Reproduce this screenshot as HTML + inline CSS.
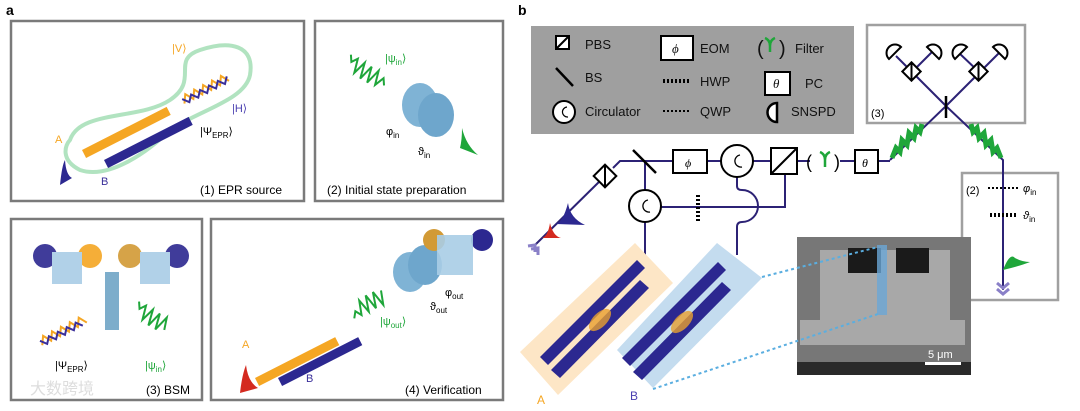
<!DOCTYPE html>
<html><head><meta charset="utf-8"><style>
body{margin:0;background:#fff}
svg{display:block;font-family:"Liberation Sans",sans-serif}
</style></head><body>
<svg width="1080" height="411" viewBox="0 0 1080 411" xmlns="http://www.w3.org/2000/svg">
<text x="6" y="15" font-size="14" font-weight="bold">a</text>
<text x="518" y="15" font-size="14" font-weight="bold">b</text>
<g fill="none" stroke="#7a7a7a" stroke-width="2.5">
<rect x="11" y="21" width="293" height="180"/>
<rect x="315" y="21" width="188" height="180"/>
<rect x="11" y="219" width="191" height="181"/>
<rect x="211" y="219" width="292" height="181"/>
</g>
<path d="M70,140 C80,110 140,120 170,100 C200,80 170,60 200,50 C230,40 255,45 250,75 C245,100 200,110 170,130 C150,150 110,180 80,170 C60,160 65,145 70,140 z" fill="none" stroke="#9edcb0" stroke-width="4" opacity="0.8"/>
<g transform="translate(82,150) rotate(-27)"><rect x="0" y="0" width="95" height="9" fill="#f5a623"/></g>
<g transform="translate(104,160) rotate(-27)"><rect x="0" y="0" width="95" height="9" fill="#2c2890"/></g>
<path d="M180,95 l5,-8 l5,8 l5,-8 l5,8 l5,-8 l5,8 l5,-8 l5,8 l5,-8 l5,8" transform="rotate(-27 200 90)" fill="none" stroke="#f5a623" stroke-width="2"/>
<path d="M180,90 l5,6 l5,-6 l5,6 l5,-6 l5,6 l5,-6 l5,6 l5,-6 l5,6 l5,-6" transform="rotate(-27 200 90)" fill="none" stroke="#3a2f9a" stroke-width="2"/>
<path d="M60,185 Q62,165 65,160 Q66,175 72,178 z" fill="#2c2890"/>
<text x="172" y="52" font-size="11" fill="#f5a623">|V⟩</text>
<text x="232" y="112" font-size="11" fill="#4a3fb0">|H⟩</text>
<text x="200" y="135" font-size="11">|Ψ<tspan font-size="8" dy="3">EPR</tspan><tspan dy="-3">⟩</tspan></text>
<text x="55" y="143" font-size="11" fill="#f5a623">A</text>
<text x="101" y="185" font-size="11" fill="#3a2f9a">B</text>
<text x="200" y="194" font-size="12">(1) EPR source</text>
<path d="M342,62 l4,6 l4,-6 l4,14 l4,-14 l4,16 l4,-16 l4,16 l4,-16 l4,14 l4,-10 l4,6" transform="rotate(30 360 75)" fill="none" stroke="#1fa63a" stroke-width="2"/>
<ellipse cx="420" cy="105" rx="18" ry="22" fill="#7fb3d5"/>
<ellipse cx="436" cy="115" rx="18" ry="22" fill="#6ea6cc"/>
<path d="M460,148 Q462,140 462,128 Q466,145 478,155 z" fill="#1fa63a"/>
<text x="385" y="62" font-size="11" fill="#1fa63a">|ψ<tspan font-size="8" dy="3">in</tspan><tspan dy="-3">⟩</tspan></text>
<text x="386" y="135" font-size="11">φ<tspan font-size="8" dy="3">in</tspan></text>
<text x="418" y="155" font-size="11">ϑ<tspan font-size="8" dy="3">in</tspan></text>
<text x="327" y="194" font-size="12">(2) Initial state preparation</text>
<g opacity="0.9">
<circle cx="45" cy="256" r="12" fill="#2c2890"/><circle cx="90" cy="256" r="12" fill="#f5a623"/>
<rect x="52" y="252" width="30" height="32" fill="#a9cde6"/>
<circle cx="130" cy="256" r="12" fill="#d29a35"/><circle cx="177" cy="256" r="12" fill="#2c2890"/>
<rect x="140" y="252" width="30" height="32" fill="#a9cde6"/>
<rect x="105" y="272" width="14" height="58" fill="#6fa5c6"/>
</g>
<path d="M35,335 l5,-8 l5,8 l5,-8 l5,8 l5,-8 l5,8 l5,-8 l5,8 l5,-8 l5,8" transform="rotate(-27 60 325)" fill="none" stroke="#f5a623" stroke-width="2"/>
<path d="M35,330 l5,6 l5,-6 l5,6 l5,-6 l5,6 l5,-6 l5,6 l5,-6 l5,6" transform="rotate(-27 60 325)" fill="none" stroke="#3a2f9a" stroke-width="2"/>
<path d="M132,312 l4,6 l4,-6 l4,14 l4,-14 l4,16 l4,-16 l4,16 l4,-16 l4,12" transform="rotate(30 155 320)" fill="none" stroke="#1fa63a" stroke-width="2"/>
<text x="55" y="369" font-size="11">|Ψ<tspan font-size="8" dy="3">EPR</tspan><tspan dy="-3">⟩</tspan></text>
<text x="145" y="369" font-size="11" fill="#1fa63a">|ψ<tspan font-size="8" dy="3">in</tspan><tspan dy="-3">⟩</tspan></text>
<text x="146" y="394" font-size="12">(3) BSM</text>
<text x="30" y="394" font-size="16" fill="#ddd">大数跨境</text>
<g transform="translate(255,378) rotate(-27)"><rect x="0" y="0" width="90" height="9" fill="#f5a623"/></g>
<g transform="translate(278,378) rotate(-27)"><rect x="0" y="0" width="90" height="9" fill="#2c2890"/></g>
<path d="M240,393 Q242,375 246,365 Q248,382 258,388 z" fill="#d42a1f"/>
<path d="M348,310 l4,-6 l4,6 l4,-14 l4,14 l4,-16 l4,16 l4,-16 l4,16 l4,-14" transform="rotate(-25 370 300)" fill="none" stroke="#1fa63a" stroke-width="2"/>
<ellipse cx="410" cy="272" rx="17" ry="20" fill="#7fb3d5"/>
<ellipse cx="425" cy="265" rx="17" ry="20" fill="#6ea6cc"/>
<circle cx="434" cy="240" r="11" fill="#d29a35"/><circle cx="482" cy="240" r="11" fill="#2c2890"/>
<rect x="437" y="235" width="36" height="40" fill="#a9cde6" opacity="0.9"/>
<text x="242" y="348" font-size="11" fill="#f5a623">A</text>
<text x="306" y="382" font-size="11" fill="#3a2f9a">B</text>
<text x="380" y="325" font-size="11" fill="#1fa63a">|ψ<tspan font-size="8" dy="3">out</tspan><tspan dy="-3">⟩</tspan></text>
<text x="445" y="296" font-size="11">φ<tspan font-size="8" dy="3">out</tspan></text>
<text x="430" y="310" font-size="11">ϑ<tspan font-size="8" dy="3">out</tspan></text>
<text x="405" y="394" font-size="12">(4) Verification</text>

<rect x="531" y="26" width="323" height="108" fill="#9f9f9f"/>
<g font-size="13" fill="#111">
<rect x="556" y="36" width="13" height="13" fill="#fff" stroke="#000" stroke-width="2"/><line x1="556" y1="49" x2="569" y2="36" stroke="#000" stroke-width="2"/>
<text x="585" y="49">PBS</text>
<line x1="556" y1="68" x2="573" y2="86" stroke="#000" stroke-width="2.5"/><text x="585" y="82">BS</text>
<circle cx="564" cy="112" r="11" fill="#fff" stroke="#000" stroke-width="2"/><path d="M567,107 A5,5 0 1 0 568,117" fill="none" stroke="#000" stroke-width="1.2"/>
<text x="585" y="116">Circulator</text>
<rect x="661" y="36" width="32" height="24" fill="#fff" stroke="#000" stroke-width="2"/><text x="672" y="53" font-style="italic" font-family="Liberation Serif">ϕ</text>
<text x="700" y="53">EOM</text>
<line x1="663" y1="81" x2="690" y2="81" stroke="#000" stroke-width="4" stroke-dasharray="2,2"/><text x="700" y="86">HWP</text>
<line x1="663" y1="111" x2="690" y2="111" stroke="#000" stroke-width="2" stroke-dasharray="2,2"/><text x="700" y="116">QWP</text>
<text x="757" y="55" font-size="20">(</text><text x="779" y="55" font-size="20">)</text>
<path d="M770,52 L770,46 M770,46 Q770,40 765,38 M770,46 Q770,40 775,38" stroke="#1fa63a" stroke-width="2.5" fill="none"/>
<text x="795" y="53">Filter</text>
<rect x="765" y="72" width="25" height="23" fill="#fff" stroke="#000" stroke-width="2"/><text x="773" y="88" font-style="italic" font-family="Liberation Serif">θ</text>
<text x="805" y="88">PC</text>
<path d="M777,103 A9,9 0 0 0 777,122 z" fill="#fff" stroke="#000" stroke-width="2.5"/>
<text x="791" y="116">SNSPD</text>
</g>
<rect x="867" y="25" width="158" height="98" fill="#fff" stroke="#a0a0a0" stroke-width="2.5"/>
<text x="871" y="117" font-size="11">(3)</text>
<rect x="962" y="173" width="96" height="127" fill="#fff" stroke="#a0a0a0" stroke-width="2.5"/>
<text x="966" y="194" font-size="11">(2)</text>
<g stroke="#2c2275" stroke-width="2" fill="none">
<path d="M535,245 L605,176"/>
<path d="M613,168 L620,161 H673"/>
<path d="M707,161 H771"/>
<path d="M797,161 H810"/>
<path d="M840,161 H855"/>
<path d="M878,161 H890"/>
<path d="M645,161 V190"/>
<path d="M661,207 H785 V173"/>
<path d="M737,177 V186 Q737,190 742,190 A16,16 0 0 1 742,222 Q737,222 737,227 V255"/>
<path d="M645,222 V255"/>
<path d="M890,160 L946,106 L1003,160 V290"/>
<path d="M946,106 L896,56"/><path d="M946,106 L1000,52"/>
<path d="M912,72 L932,52"/><path d="M979,72 L958,52"/>
</g>
<path d="M892,158 l4,-10 l4,4 l2,-12 l5,5 l2,-12 l5,5 l2,-10 l4,4 l2,-8" fill="none" stroke="#1fa63a" stroke-width="5"/>
<path d="M1001,158 l-4,-10 l-4,4 l-2,-12 l-5,5 l-2,-12 l-5,5 l-2,-10 l-4,4 l-2,-8" fill="none" stroke="#1fa63a" stroke-width="5"/>
<line x1="946" y1="96" x2="946" y2="118" stroke="#000" stroke-width="2.5"/>
<g stroke="#000" stroke-width="2" fill="#fff">
<rect x="905" y="65" width="13" height="13" transform="rotate(45 911.5 71.5)"/><line x1="911.5" y1="63" x2="911.5" y2="80"/>
<rect x="972" y="65" width="13" height="13" transform="rotate(45 978.5 71.5)"/><line x1="978.5" y1="63" x2="978.5" y2="80"/>
<path d="M889,59 A8,8 0 0 1 901,47 z"/><path d="M927,47 A8,8 0 0 1 939,59 z"/>
<path d="M955,59 A8,8 0 0 1 967,47 z"/><path d="M993,47 A8,8 0 0 1 1005,59 z"/>
</g>
<g stroke="#000" stroke-width="2" fill="#fff">
<rect x="597" y="168" width="16" height="16" transform="rotate(45 605 176)"/>
<line x1="605" y1="165" x2="605" y2="187"/>
<rect x="673" y="150" width="34" height="23"/>
<circle cx="737" cy="161" r="16"/>
<circle cx="645" cy="206" r="16"/>
<rect x="771" y="148" width="26" height="26"/><line x1="771" y1="174" x2="797" y2="148"/>
<rect x="855" y="150" width="23" height="23"/>
</g>
<line x1="633" y1="150" x2="656" y2="173" stroke="#000" stroke-width="2.5"/>
<path d="M740,155 A6,6 0 1 0 742,167" fill="none" stroke="#000" stroke-width="1.3"/>
<path d="M648,200 A6,6 0 1 0 650,212" fill="none" stroke="#000" stroke-width="1.3"/>
<text x="685" y="167" font-size="12" font-style="italic" font-family="Liberation Serif">ϕ</text>
<text x="862" y="167" font-size="12" font-style="italic" font-family="Liberation Serif">θ</text>
<text x="806" y="168" font-size="18">(</text><text x="834" y="168" font-size="18">)</text>
<path d="M825,167 L825,160 M825,160 Q825,154 820,152 M825,160 Q825,154 830,152" stroke="#1fa63a" stroke-width="2.5" fill="none"/>
<line x1="698" y1="195" x2="698" y2="221" stroke="#000" stroke-width="4" stroke-dasharray="2,2"/>
<path d="M556,224 Q563,222 568,203 Q570,218 585,225z" fill="#2c2890"/>
<path d="M542,238 Q548,236 550,223 Q553,236 561,238z" fill="#d42a1f"/>
<path d="M528,246 l7,-1 l0,7 M531,249 l7,-1 l0,7" stroke="#8a80c8" stroke-width="3" fill="none"/>
<line x1="988" y1="188" x2="1020" y2="188" stroke="#000" stroke-width="2" stroke-dasharray="2,2"/>
<text x="1023" y="192" font-size="11" font-style="italic">φ<tspan font-size="8" dy="3" font-style="normal">in</tspan></text>
<line x1="990" y1="215" x2="1018" y2="215" stroke="#000" stroke-width="4" stroke-dasharray="2,2"/>
<text x="1023" y="219" font-size="11" font-style="italic">ϑ<tspan font-size="8" dy="3" font-style="normal">in</tspan></text>
<path d="M1003,270 Q1010,252 1015,258 Q1022,262 1030,262 Q1020,266 1003,270z" fill="#1fa63a"/>
<path d="M997,283 l6,5 l6,-5 M997,289 l6,5 l6,-5" stroke="#8a80c8" stroke-width="3" fill="none"/>
<polygon points="635,243 673,283 558,395 520,352" fill="#fde6c6"/>
<polygon points="717,243 762,278 653,388 617,350" fill="#c4dcef"/>
<g fill="#2c2890">
<polygon points="637,260 645,268 548,365 540,357"/>
<polygon points="640,280 649,288 560,378 551,370"/>
<polygon points="718,262 726,270 630,366 622,358"/>
<polygon points="722,282 731,290 642,380 633,372"/>
</g>
<ellipse cx="600" cy="320" rx="14" ry="7" transform="rotate(-45 600 320)" fill="#e8a030" opacity="0.8"/>
<ellipse cx="682" cy="322" rx="14" ry="7" transform="rotate(-45 682 322)" fill="#e8a030" opacity="0.8"/>
<text x="537" y="404" font-size="12" fill="#f5a623">A</text>
<text x="630" y="400" font-size="12" fill="#4a3fb0">B</text>
<rect x="797" y="237" width="174" height="138" fill="#777"/>
<path d="M820,250 H950 V320 H965 V345 H800 V320 H820z" fill="#a8a8a8"/>
<rect x="848" y="248" width="33" height="25" fill="#1a1a1a"/>
<rect x="896" y="248" width="33" height="25" fill="#1a1a1a"/>
<rect x="877" y="245" width="10" height="70" fill="#6aa6d6" opacity="0.8"/>
<rect x="797" y="362" width="174" height="13" fill="#2a2a2a"/>
<rect x="925" y="362" width="36" height="3" fill="#fff"/>
<text x="928" y="358" font-size="11" fill="#fff">5 μm</text>
<g stroke="#5aaee0" stroke-width="2" stroke-dasharray="3,3">
<line x1="762" y1="277" x2="878" y2="247"/>
<line x1="653" y1="389" x2="878" y2="314"/>
</g>
</svg>
</body></html>
